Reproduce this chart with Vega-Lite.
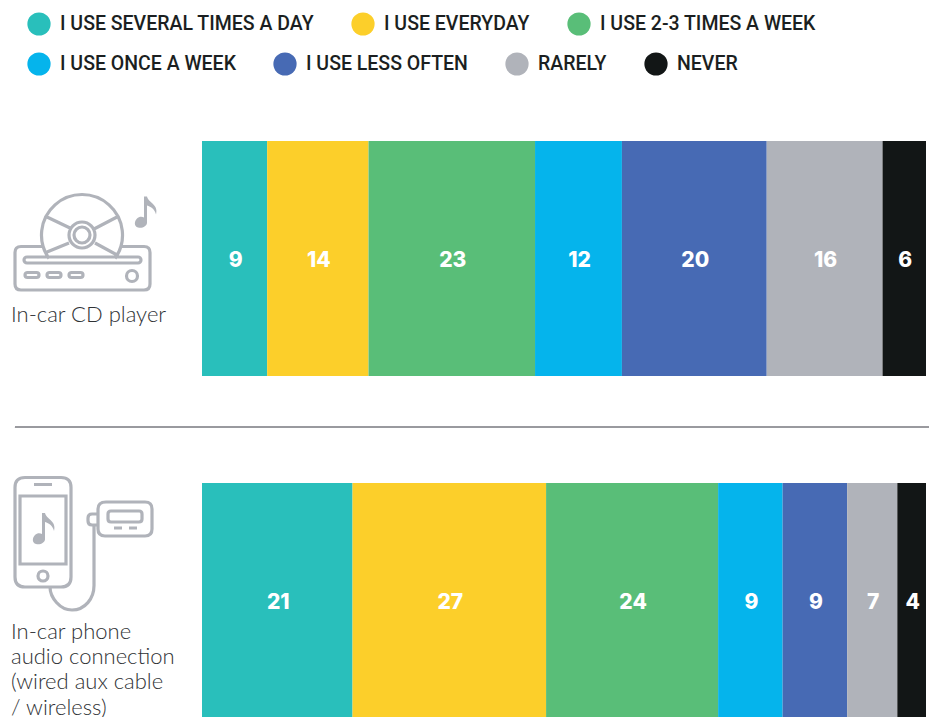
{"$schema":"https://vega.github.io/schema/vega-lite/v6.json","width":931,"height":717,"padding":0,"autosize":{"type":"none"},"background":"white","config":{"view":{"stroke":null},"legend":{"orient":"none","direction":"horizontal","gridAlign":"none","symbolType":"circle","symbolSize":540,"symbolStrokeWidth":0,"labelFont":"Roboto","labelFontSize":19.5,"labelFontWeight":500,"labelColor":"#1b1f21","labelOffset":9,"columnPadding":37,"labelLimit":400,"title":null,"padding":0}},"data":{"values":[
{"row":"In-car CD player","category":"I USE SEVERAL TIMES A DAY","order":1,"value":9},
{"row":"In-car CD player","category":"I USE EVERYDAY","order":2,"value":14},
{"row":"In-car CD player","category":"I USE 2-3 TIMES A WEEK","order":3,"value":23},
{"row":"In-car CD player","category":"I USE ONCE A WEEK","order":4,"value":12},
{"row":"In-car CD player","category":"I USE LESS OFTEN","order":5,"value":20},
{"row":"In-car CD player","category":"RARELY","order":6,"value":16},
{"row":"In-car CD player","category":"NEVER","order":7,"value":6},
{"row":"In-car phone|audio connection|(wired aux cable|/ wireless)","category":"I USE SEVERAL TIMES A DAY","order":1,"value":21},
{"row":"In-car phone|audio connection|(wired aux cable|/ wireless)","category":"I USE EVERYDAY","order":2,"value":27},
{"row":"In-car phone|audio connection|(wired aux cable|/ wireless)","category":"I USE 2-3 TIMES A WEEK","order":3,"value":24},
{"row":"In-car phone|audio connection|(wired aux cable|/ wireless)","category":"I USE ONCE A WEEK","order":4,"value":9},
{"row":"In-car phone|audio connection|(wired aux cable|/ wireless)","category":"I USE LESS OFTEN","order":5,"value":9},
{"row":"In-car phone|audio connection|(wired aux cable|/ wireless)","category":"RARELY","order":6,"value":7},
{"row":"In-car phone|audio connection|(wired aux cable|/ wireless)","category":"NEVER","order":7,"value":4}
]},
"transform":[{"stack":"value","groupby":["row"],"sort":[{"field":"order","order":"ascending"}],"offset":"normalize","as":["x0","x1"]},{"calculate":"(datum.x0+datum.x1)/2","as":"xm"}],
"encoding":{"y":{"field":"row","type":"nominal","axis":null,"scale":{"domain":["In-car CD player","In-car phone|audio connection|(wired aux cable|/ wireless)"],"range":[141,718],"paddingInner":0.313,"paddingOuter":0}}},
"layer":[
{"transform":[{"filter":"datum.order<=3"}],"mark":{"type":"bar"},"encoding":{"x":{"field":"x0","type":"quantitative","axis":null,"scale":{"domain":[0,1],"range":[202,926]}},"x2":{"field":"x1"},"color":{"field":"category","type":"nominal","scale":{"domain":["I USE SEVERAL TIMES A DAY","I USE EVERYDAY","I USE 2-3 TIMES A WEEK"],"range":["#29bfbb","#fccf2a","#59be78"]},"legend":{"legendX":27,"legendY":12,"columns":3}}}},
{"transform":[{"filter":"datum.order>3"}],"mark":{"type":"bar"},"encoding":{"x":{"field":"x0","type":"quantitative","axis":null,"scale":{"domain":[0,1],"range":[202,926]}},"x2":{"field":"x1"},"color":{"field":"category","type":"nominal","scale":{"domain":["I USE ONCE A WEEK","I USE LESS OFTEN","RARELY","NEVER"],"range":["#05b4ec","#476ab4","#b0b3ba","#121616"]},"legend":{"legendX":27,"legendY":52,"columns":4}}}},
{"mark":{"type":"text","color":"white","font":"Inter","fontWeight":800,"fontSize":21,"align":"center","baseline":"middle","dy":2.5,"dx":1},"encoding":{"x":{"field":"xm","type":"quantitative"},"text":{"field":"value","type":"quantitative"}}},
{"transform":[{"filter":"datum.order==1 && datum.value==9"}],"mark":{"type":"text","font":"Lato","fontWeight":300,"fontSize":22,"color":"#2f3235","align":"left","baseline":"middle","lineBreak":"|","lineHeight":25,"dy":56.5},"encoding":{"x":{"datum":-0.2638,"type":"quantitative"},"text":{"field":"row"}}},
{"transform":[{"filter":"datum.order==1 && datum.value==21"}],"mark":{"type":"text","font":"Lato","fontWeight":300,"fontSize":22,"color":"#2f3235","align":"left","baseline":"middle","lineBreak":"|","lineHeight":25.2,"dy":31.5},"encoding":{"x":{"datum":-0.2638,"type":"quantitative"},"text":{"field":"row"}}},
{"mark":{"type":"rule","color":"#999b9e","strokeWidth":1},"encoding":{"y":{"datum":"In-car phone|audio connection|(wired aux cable|/ wireless)","type":"nominal","bandPosition":-0.238},"x":{"datum":-0.2583,"type":"quantitative"},"x2":{"datum":1.0041}}},
{"transform":[{"filter":"datum.order==1 && datum.value==9"}],"mark":{"type":"point","filled":false,"size":40000,"stroke":"#b0b3ba","strokeWidth":3.2,"opacity":1,"shape":"M.425 -.12 L.21 -.12 Q.15 -.12 .15 -.06 L.15 .255 Q.15 .315 .21 .315 L1.44 .315 Q1.5 .315 1.5 .255 L1.5 -.06 Q1.5 -.12 1.44 -.12 L1.215 -.12 M.49 0 A.405 .405 0 1 1 1.15 0 M.27 -.015 L1.38 -.015 A.03 .03 0 0 1 1.38 .045 L.27 .045 A.03 .03 0 0 1 .27 -.015 Z M.275 .14 L.365 .14 A.025 .025 0 0 1 .365 .19 L.275 .19 A.025 .025 0 0 1 .275 .14 Z M.495 .14 L.585 .14 A.025 .025 0 0 1 .585 .19 L.495 .19 A.025 .025 0 0 1 .495 .14 Z M.715 .14 L.805 .14 A.025 .025 0 0 1 .805 .19 L.715 .19 A.025 .025 0 0 1 .715 .14 Z M1.265 .175 A.055 .055 0 1 1 1.375 .175 A.055 .055 0 1 1 1.265 .175 Z M.69 -.235 A.13 .13 0 1 1 .95 -.235 A.13 .13 0 1 1 .69 -.235 Z M.74 -.235 A.08 .08 0 1 1 .90 -.235 A.08 .08 0 1 1 .74 -.235 Z M.70 -.305 L.47 -.415 M.94 -.295 L1.17 -.415 M.69 -.155 L.47 -.065 M.95 -.155 L1.17 -.035"},"encoding":{"x":{"datum":-0.279,"type":"quantitative"}}},
{"transform":[{"filter":"datum.order==1 && datum.value==9"}],"mark":{"type":"point","filled":true,"size":40000,"fill":"#b0b3ba","opacity":1,"shape":"M1.44 -.62 L1.47 -.62 C1.48 -.56 1.59 -.54 1.56 -.44 C1.55 -.49 1.51 -.52 1.47 -.53 L1.47 -.36 C1.47 -.32 1.42 -.30 1.38 -.31 C1.34 -.32 1.34 -.37 1.37 -.40 C1.39 -.42 1.42 -.42 1.44 -.41 Z"},"encoding":{"x":{"datum":-0.279,"type":"quantitative"}}},
{"transform":[{"filter":"datum.order==1 && datum.value==21"}],"mark":{"type":"point","filled":false,"size":40000,"stroke":"#b0b3ba","strokeWidth":3.2,"opacity":1,"shape":"M.25 -1.23 L.61 -1.23 Q.71 -1.23 .71 -1.13 L.71 -.235 Q.71 -.135 .61 -.135 L.25 -.135 Q.15 -.135 .15 -.235 L.15 -1.13 Q.15 -1.23 .25 -1.23 Z M.2 -1.045 L.66 -1.045 L.66 -.365 L.2 -.365 Z M.34 -1.16 L.52 -1.16 M.38 -.245 A.05 .05 0 1 1 .48 -.245 A.05 .05 0 1 1 .38 -.245 Z M.5 -.135 C.5 -.03 .6 .095 .72 .095 C.85 .095 .94 -.02 .94 -.15 L.94 -.77 M.97 -.865 L.92 -.865 Q.88 -.865 .88 -.825 L.88 -.795 Q.88 -.755 .92 -.755 L.97 -.755 M1.06 -.985 L1.45 -.985 Q1.52 -.985 1.52 -.915 L1.52 -.715 Q1.52 -.645 1.45 -.645 L1.05 -.645 Q.98 -.645 .98 -.715 L.98 -.915 Q.98 -.985 1.06 -.985 Z M1.11 -.895 L1.39 -.895 Q1.42 -.895 1.42 -.865 L1.42 -.815 Q1.42 -.785 1.39 -.785 L1.11 -.785 Q1.08 -.785 1.08 -.815 L1.08 -.865 Q1.08 -.895 1.11 -.895 Z M1.14 -.725 L1.22 -.725 M1.29 -.725 L1.37 -.725"},"encoding":{"x":{"datum":-0.279,"type":"quantitative"}}},
{"transform":[{"filter":"datum.order==1 && datum.value==21"}],"mark":{"type":"point","filled":true,"size":40000,"fill":"#b0b3ba","opacity":1,"shape":"M.42 -.875 L.45 -.875 C.46 -.815 .57 -.795 .54 -.695 C.53 -.745 .49 -.775 .45 -.785 L.45 -.615 C.45 -.575 .40 -.555 .36 -.565 C.32 -.575 .32 -.625 .35 -.655 C.37 -.675 .40 -.675 .42 -.665 Z"},"encoding":{"x":{"datum":-0.279,"type":"quantitative"}}}
],
"resolve":{"scale":{"color":"independent"}}}
